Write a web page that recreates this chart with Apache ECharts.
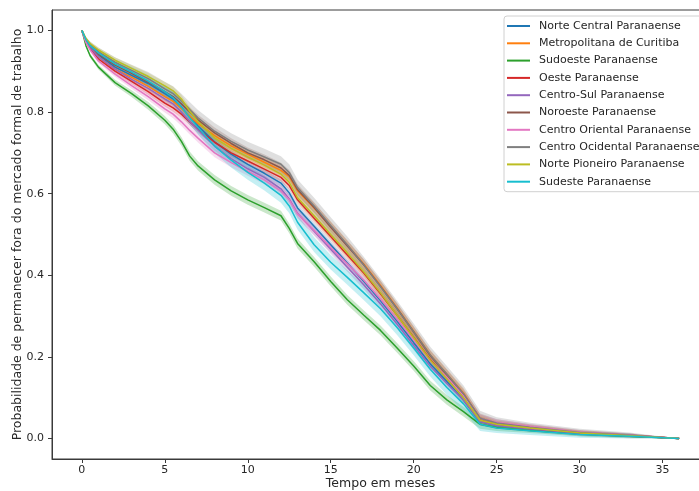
<!DOCTYPE html>
<html>
<head>
<meta charset="utf-8">
<script src="https://cdn.jsdelivr.net/npm/echarts@6/dist/echarts.min.js"></script>
<style>
  html, body { margin: 0; padding: 0; background: #fff; }
  #chart { width: 699px; height: 491px; }
</style>
</head>
<body>
<div id="chart"></div>
<script>
// Survival time grid (months)
const months = [0, 0.25, 0.5, 1, 2, 3, 4, 5, 5.5, 6, 6.5, 7, 8, 9, 10, 11, 12, 12.5, 13, 14, 15, 16, 17, 18, 19, 20, 21, 22, 23, 24, 25, 27, 30, 33, 36];

// Kaplan-Meier estimates per mesorregião
const norteCentral    = [1, .975, .96, .94, .91, .89, .87, .845, .832, .812, .788, .766, .727, .697, .672, .65, .626, .602, .565, .52, .475, .43, .385, .338, .288, .235, .183, .14, .095, .042, .032, .024, .013, .007, 0];
const metropolitana   = [1, .974, .958, .935, .905, .885, .863, .838, .826, .808, .79, .772, .742, .717, .697, .677, .657, .642, .607, .565, .52, .474, .427, .375, .32, .263, .205, .158, .112, .048, .036, .027, .014, .008, 0];
const sudoeste        = [1, .962, .938, .91, .872, .845, .815, .78, .758, .728, .692, .668, .634, .607, .585, .566, .546, .515, .478, .433, .385, .34, .302, .265, .222, .178, .13, .095, .066, .035, .027, .02, .011, .006, 0];
const oeste           = [1, .972, .955, .93, .90, .875, .85, .822, .81, .795, .776, .758, .726, .70, .68, .66, .64, .62, .585, .54, .495, .45, .405, .355, .302, .248, .193, .148, .103, .045, .034, .025, .013, .007, 0];
const centroSul       = [1, .974, .958, .935, .905, .88, .858, .832, .82, .80, .777, .756, .716, .686, .661, .64, .612, .587, .552, .508, .464, .42, .376, .33, .28, .228, .177, .135, .095, .042, .032, .024, .013, .007, 0];
const noroeste        = [1, .977, .962, .942, .915, .895, .873, .85, .838, .82, .80, .781, .749, .723, .70, .683, .663, .645, .61, .566, .518, .472, .425, .373, .318, .261, .203, .156, .108, .05, .038, .028, .015, .008, 0];
const centroOriental  = [1, .97, .952, .925, .893, .865, .838, .808, .795, .776, .755, .736, .70, .676, .655, .634, .606, .585, .55, .51, .468, .428, .388, .342, .292, .242, .19, .15, .105, .05, .04, .03, .016, .009, 0];
const centroOcidental = [1, .978, .965, .948, .922, .902, .882, .857, .845, .827, .806, .786, .753, .728, .707, .69, .672, .652, .615, .57, .522, .475, .425, .372, .318, .262, .205, .158, .11, .05, .038, .028, .015, .008, 0];
const nortePioneiro   = [1, .98, .968, .952, .927, .907, .887, .864, .852, .832, .802, .777, .737, .711, .69, .67, .648, .628, .59, .546, .50, .455, .408, .357, .302, .247, .192, .146, .10, .045, .035, .026, .014, .007, 0];
const sudeste         = [1, .977, .962, .945, .918, .898, .876, .85, .835, .812, .786, .762, .717, .682, .652, .626, .596, .57, .53, .475, .432, .395, .357, .318, .272, .222, .17, .125, .085, .035, .026, .019, .01, .006, 0];

// Confidence band: relative spread over time and half-width per region
const bandProfile = [0, .3, .4, .5, .6, .7, .8, .85, .9, .9, .92, .95,
  1, 1, 1, 1, 1, 1, 1, 1, 1, 1, 1, 1, 1, 1, 1, 1, 1,
  .9, .7, .55, .45, .35, 0];
const bandHalfWidth = [.009, .012, .012, .01, .011, .013, .011, .02, .011, .018];

const regionNames = [
  'Norte Central Paranaense', 'Metropolitana de Curitiba', 'Sudoeste Paranaense',
  'Oeste Paranaense', 'Centro-Sul Paranaense', 'Noroeste Paranaense',
  'Centro Oriental Paranaense', 'Centro Ocidental Paranaense',
  'Norte Pioneiro Paranaense', 'Sudeste Paranaense'
];
const regionValues = [norteCentral, metropolitana, sudoeste, oeste, centroSul,
  noroeste, centroOriental, centroOcidental, nortePioneiro, sudeste];
const palette = ['#1f77b4', '#ff7f0e', '#2ca02c', '#d62728', '#9467bd',
  '#8c564b', '#e377c2', '#7f7f7f', '#bcbd22', '#17becf'];

const xTicks = [0, 5, 10, 15, 20, 25, 30, 35];
const yTicks = [0, 0.2, 0.4, 0.6, 0.8, 1.0];

const series = [];
regionValues.forEach(function (vals, i) {
  const upper = vals.map(function (v, k) { return [months[k], Math.min(1, v + bandHalfWidth[i] * bandProfile[k])]; });
  const lower = vals.map(function (v, k) { return [months[k], Math.max(0, v - bandHalfWidth[i] * bandProfile[k])]; });
  // shaded confidence band
  series.push({
    name: regionNames[i] + ' (IC)',
    type: 'custom',
    silent: true,
    data: [[0, 0]],
    renderItem: function (params, api) {
      const pts = upper.concat(lower.slice().reverse()).map(function (p) { return api.coord(p); });
      return {
        type: 'polygon',
        shape: { points: pts },
        style: { fill: palette[i], opacity: 0.25 }
      };
    }
  });
  // survival curve
  series.push({
    name: regionNames[i],
    type: 'line',
    showSymbol: false,
    symbol: 'none',
    color: palette[i],
    lineStyle: { width: 1.5, color: palette[i] },
    data: vals.map(function (v, k) { return [months[k], v]; })
  });
});

const textColor = '#262626';
const axisColor = '#3a3a3a';

const chart = echarts.init(document.getElementById('chart'), null, { renderer: 'canvas' });
chart.setOption({
  animation: false,
  backgroundColor: '#fff',
  textStyle: { fontFamily: 'DejaVu Sans' },
  grid: {
    left: 52, top: 10, width: 657, height: 449,
    outerBoundsMode: 'none',
    containLabel: false,
    show: true, borderColor: axisColor, borderWidth: 1, backgroundColor: 'transparent'
  },
  legend: {
    data: regionNames,
    orient: 'vertical',
    left: 504, top: 16,
    padding: [3, 8, 3, 3],
    icon: 'rect',
    itemWidth: 23, itemHeight: 2,
    itemGap: 3.3,
    backgroundColor: 'rgba(255,255,255,0.8)',
    borderColor: '#d0d0d0', borderWidth: 1, borderRadius: 3,
    textStyle: { fontFamily: 'DejaVu Sans', fontSize: 11, color: textColor, lineHeight: 14, padding: [0, 0, 0, 4] },
    selectedMode: false
  },
  xAxis: {
    type: 'value',
    min: -1.8, max: 37.8,
    name: 'Tempo em meses',
    nameLocation: 'middle',
    nameGap: 18,
    nameMoveOverlap: false,
    nameTextStyle: { fontFamily: 'DejaVu Sans', fontSize: 12.5, color: textColor },
    axisLine: { show: true, onZero: false, lineStyle: { color: axisColor, width: 1 } },
    axisTick: { show: true, inside: false, length: 4, customValues: xTicks, lineStyle: { color: axisColor } },
    axisLabel: { customValues: xTicks, margin: 6, fontSize: 11, color: textColor, fontFamily: 'DejaVu Sans' },
    splitLine: { show: false }
  },
  yAxis: {
    type: 'value',
    min: -0.05, max: 1.05,
    name: 'Probabilidade de permanecer fora do mercado formal de trabalho',
    nameLocation: 'middle',
    nameGap: 28,
    nameMoveOverlap: false,
    nameTextStyle: { fontFamily: 'DejaVu Sans', fontSize: 12.5, color: textColor },
    axisLine: { show: true, onZero: false, lineStyle: { color: axisColor, width: 1 } },
    axisTick: { show: true, inside: false, length: 4, customValues: yTicks, lineStyle: { color: axisColor } },
    axisLabel: {
      customValues: yTicks, margin: 8, fontSize: 11, color: textColor, fontFamily: 'DejaVu Sans',
      formatter: function (v) { return v.toFixed(1); }
    },
    splitLine: { show: false }
  },
  series: series
});
</script>
</body>
</html>
